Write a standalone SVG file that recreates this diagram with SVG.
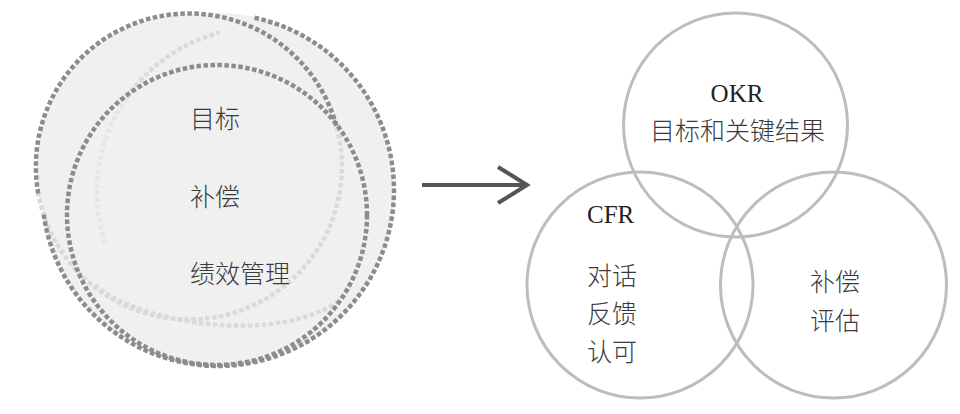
<svg xmlns="http://www.w3.org/2000/svg" width="960" height="414" viewBox="0 0 960 414">
<style>
.dk{fill:none;stroke:#8c8c8c;stroke-width:4.5;stroke-dasharray:4.5 2.5}
.lt{fill:none;stroke:#dadada;stroke-width:4.5;stroke-dasharray:4.5 2.5}
.xl{fill:none;stroke:#e6e6e6;stroke-width:4.5;stroke-dasharray:4.5 2.5}
.ring{fill:none;stroke:#bdbdbd;stroke-width:3}
.cn{font-family:"Noto Sans CJK SC","Noto Sans",sans-serif;font-size:25px;font-weight:300;fill:#3a3a3a}
.en{font-family:"Liberation Serif",serif;font-size:25px;fill:#222}
</style>
<rect width="960" height="414" fill="#fff"/>
<g id="left-circles">
<circle cx="218" cy="190" r="177" fill="#f0f0f0"/>
<circle cx="189" cy="167" r="153" fill="#f0f0f0"/>
<path class="lt" d="M336.8,127.4 A153,153 0 1 1 38.3,193.6"/>
<path class="xl" d="M105.1,243 A165,165 0 0 1 126.8,97.4"/>
<path class="lt" d="M126.8,97.4 A165,165 0 0 1 219.3,32.6"/>
<path class="lt" d="M95,285 C140,325 280,345 340,300"/>
<path class="dk" d="M38.3,193.6 A153,153 0 0 1 336.8,127.4"/>
<path class="dk" d="M254.6,17.8 A176,176 0 1 1 43.7,214.5"/>
<circle class="dk" cx="217" cy="215" r="150"/>
</g>
<g id="left-text">
<text class="cn" x="190" y="128">目标</text>
<text class="cn" x="190" y="206">补偿</text>
<text class="cn" x="190" y="283">绩效管理</text>
</g>
<g id="connectors">
<path d="M422,185 H527 M498,167 L527,185 L498,203" fill="none" stroke="#555" stroke-width="4" stroke-linejoin="miter"/>
</g>
<g id="okr">
<circle class="ring" cx="735.5" cy="125" r="112"/>
<text class="en" x="737" y="102" text-anchor="middle">OKR</text>
<text class="cn" x="737.5" y="140" text-anchor="middle">目标和关键结果</text>
</g>
<g id="cfr">
<circle class="ring" cx="640" cy="285" r="113"/>
<text class="en" x="587" y="223">CFR</text>
<text class="cn" x="587" y="285">对话</text>
<text class="cn" x="587" y="323">反馈</text>
<text class="cn" x="587" y="361">认可</text>
</g>
<g id="comp">
<circle class="ring" cx="833.5" cy="285" r="113"/>
<text class="cn" x="810" y="291">补偿</text>
<text class="cn" x="810" y="330">评估</text>
</g>
</svg>
